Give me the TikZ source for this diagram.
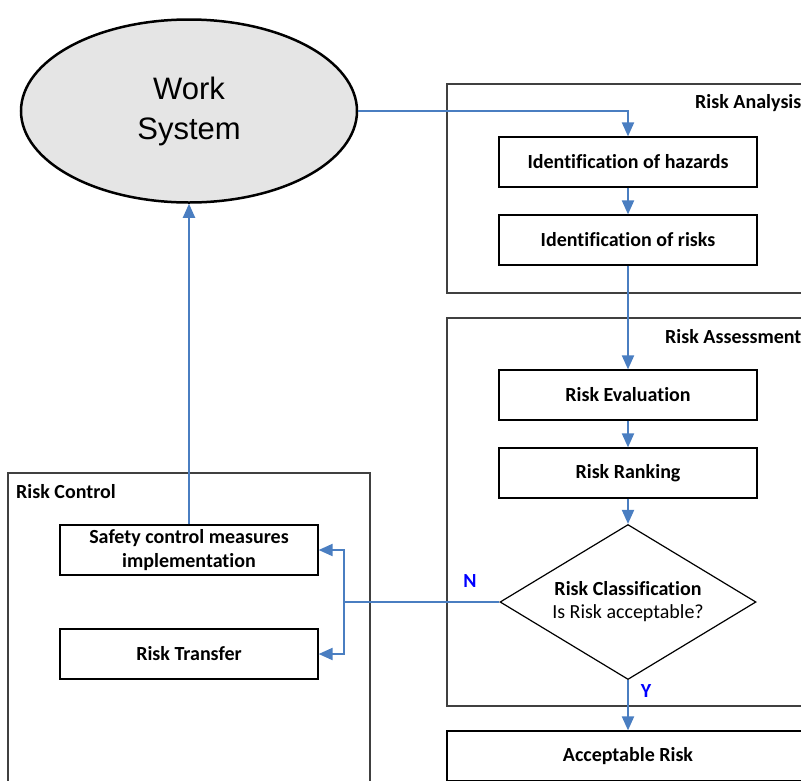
\documentclass[tikz,border=0pt]{standalone}
\usepackage{fontspec}
\setmainfont{Carlito}[Ligatures=NoCommon]
\newfontfamily\arialfont{Liberation Sans}
\usepackage{tikz}
\usetikzlibrary{arrows.meta,shapes.geometric,calc}
\definecolor{flowblue}{RGB}{74,126,193}
\definecolor{framegray}{RGB}{64,64,64}
\tikzset{
	stepbox/.style={draw, line width=1.2pt, minimum width=258pt, minimum height=50pt, inner sep=0pt, font=\fontsize{20}{24}\selectfont\bfseries, align=center},
	flow/.style={draw=flowblue, line width=2pt, -{Triangle[length=14pt,width=12pt]}},
	framebox/.style={draw=framegray, line width=1.3pt},
	framelabel/.style={font=\fontsize{20}{24}\selectfont\bfseries, inner sep=0pt},
	yesno/.style={text=blue, font=\fontsize{20}{24}\selectfont\bfseries}
}

\begin{document}
\begin{tikzpicture}[x=1pt, y=-1pt]
	\useasboundingbox (0,0) rectangle (801,780);
	\clip (0,0) rectangle (801,780);
	
	\draw[framebox] (447,84) rectangle (830,293);
	\draw[framebox] (447,318) rectangle (830,706);
	\draw[framebox] (8,473) rectangle (370,800);
	\node[framelabel, anchor=west] (la) at (695,103) {Risk Analysis};
	\node[framelabel, anchor=west] (lb) at (665,337) {Risk Assessment};
	\node[framelabel, anchor=west] (lc) at (16,492) {Risk Control};
	
	\node[ellipse, draw, line width=2.5pt, fill=black!10, minimum width=336pt, minimum height=183pt, align=center, font=\arialfont\fontsize{31}{40}\selectfont] (ws) at (189,111) {Work\\System};
	
	\node[stepbox] (haz) at (628,162) {Identification of hazards};
	\node[stepbox] (risks) at (628,240) {Identification of risks};
	\node[stepbox] (eval) at (628,395) {Risk Evaluation};
	\node[stepbox] (rank) at (628,473) {Risk Ranking};
	\node[diamond, aspect=1.65, draw, line width=1.2pt, minimum width=256pt, minimum height=155pt, inner sep=0pt, align=center, font=\fontsize{20}{23}\selectfont] (cls) at (628,602) {\textbf{Risk Classification}\\Is Risk acceptable?};
	\node[stepbox, minimum width=362pt] (acc) at (628,756) {Acceptable Risk};
	\node[stepbox] (safety) at (189,550) {Safety control measures\\implementation};
	\node[stepbox] (transfer) at (189,654) {Risk Transfer};
	\coordinate (split) at (344,602);
	
	\draw[flow] (ws.east) -| (haz.north);
	\draw[flow] (haz) -- (risks);
	\draw[flow] (risks) -- (eval);
	\draw[flow] (eval) -- (rank);
	\draw[flow] (rank) -- (cls);
	\draw[flow] (cls) -- (acc);
	\draw[draw=flowblue, line width=2pt] (cls.west) -- (split);
	\draw[flow] (split) |- (safety.east);
	\draw[flow] (split) |- (transfer.east);
	\draw[flow] (safety) -- (ws);
	
	\node[yesno] (n) at (470,581) {N};
	\node[yesno] (y) at (646,691) {Y};
\end{tikzpicture}
\end{document}
